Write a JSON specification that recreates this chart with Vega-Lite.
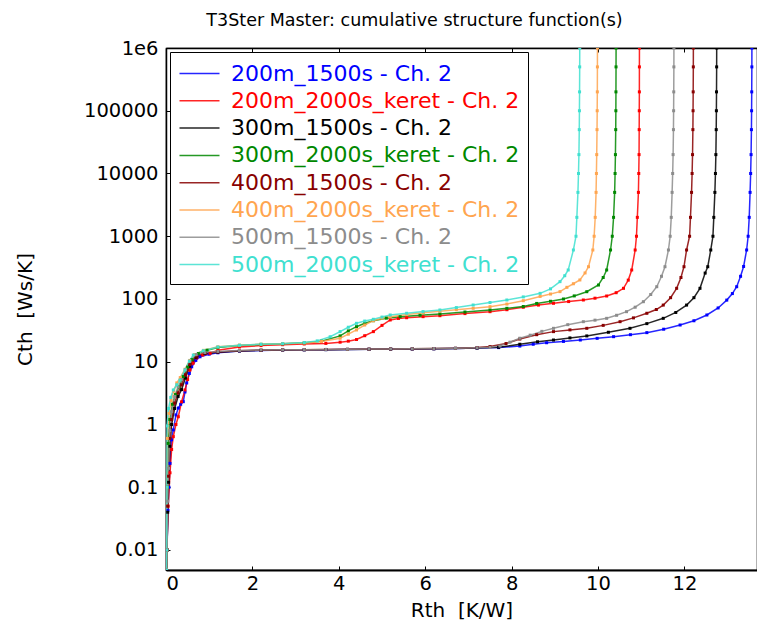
{
  "$schema": "https://vega.github.io/schema/vega-lite/v6.json",
  "autosize": {"type": "none"},
  "padding": {"left": 166, "top": 48, "right": 0, "bottom": 63},
  "width": 591,
  "height": 522,
  "background": "white",
  "title": {"text": "T3Ster Master: cumulative structure function(s)", "font": "DejaVu Sans", "fontSize": 17.5, "fontWeight": "normal", "color": "#000", "anchor": "middle", "dx": -47, "frame": "group", "baseline": "alphabetic", "offset": -5},
  "config": {
    "view": {"stroke": "#000", "strokeWidth": 1.2},
    "font": "DejaVu Sans"
  },
  "data": {"values": [
{"s":"200m_1500s","r":0.012,"c":0.0048},{"s":"200m_1500s","r":0.023,"c":0.01},{"s":"200m_1500s","r":0.046,"c":0.043},{"s":"200m_1500s","r":0.069,"c":0.1},{"s":"200m_1500s","r":0.093,"c":0.24},{"s":"200m_1500s","r":0.127,"c":0.57},{"s":"200m_1500s","r":0.169,"c":0.82},{"s":"200m_1500s","r":0.231,"c":1.42},{"s":"200m_1500s","r":0.285,"c":1.83},{"s":"200m_1500s","r":0.34,"c":2.1},{"s":"200m_1500s","r":0.4,"c":2.31},{"s":"200m_1500s","r":0.44,"c":3.3},{"s":"200m_1500s","r":0.479,"c":4.6},{"s":"200m_1500s","r":0.54,"c":6.5},{"s":"200m_1500s","r":0.595,"c":8.3},{"s":"200m_1500s","r":0.69,"c":10.5},{"s":"200m_1500s","r":0.787,"c":12.0},{"s":"200m_1500s","r":1.0,"c":13.2},{"s":"200m_1500s","r":1.2,"c":13.9},{"s":"200m_1500s","r":1.7,"c":14.8},{"s":"200m_1500s","r":2.2,"c":15.1},{"s":"200m_1500s","r":2.7,"c":15.4},{"s":"200m_1500s","r":3.2,"c":15.5},{"s":"200m_1500s","r":3.7,"c":15.6},{"s":"200m_1500s","r":4.2,"c":15.7},{"s":"200m_1500s","r":4.7,"c":15.8},{"s":"200m_1500s","r":5.2,"c":15.9},{"s":"200m_1500s","r":5.7,"c":16.0},{"s":"200m_1500s","r":6.2,"c":16.1},{"s":"200m_1500s","r":6.7,"c":16.3},{"s":"200m_1500s","r":7.2,"c":16.5},{"s":"200m_1500s","r":7.7,"c":16.8},{"s":"200m_1500s","r":8.19,"c":17.8},{"s":"200m_1500s","r":8.5,"c":19},{"s":"200m_1500s","r":8.81,"c":20.1},{"s":"200m_1500s","r":9.2,"c":21.1},{"s":"200m_1500s","r":9.59,"c":22.2},{"s":"200m_1500s","r":9.98,"c":23.6},{"s":"200m_1500s","r":10.36,"c":25.1},{"s":"200m_1500s","r":10.75,"c":27},{"s":"200m_1500s","r":11.13,"c":29.1},{"s":"200m_1500s","r":11.52,"c":33},{"s":"200m_1500s","r":11.9,"c":38.5},{"s":"200m_1500s","r":12.22,"c":45},{"s":"200m_1500s","r":12.52,"c":55.6},{"s":"200m_1500s","r":12.78,"c":72},{"s":"200m_1500s","r":12.98,"c":96},{"s":"200m_1500s","r":13.11,"c":122},{"s":"200m_1500s","r":13.21,"c":157},{"s":"200m_1500s","r":13.3,"c":230},{"s":"200m_1500s","r":13.37,"c":330},{"s":"200m_1500s","r":13.44,"c":604},{"s":"200m_1500s","r":13.475,"c":1000},{"s":"200m_1500s","r":13.5,"c":2000},{"s":"200m_1500s","r":13.52,"c":5000},{"s":"200m_1500s","r":13.533,"c":10000},{"s":"200m_1500s","r":13.543,"c":20000},{"s":"200m_1500s","r":13.551,"c":50000},{"s":"200m_1500s","r":13.555,"c":100000},{"s":"200m_1500s","r":13.558,"c":200000},{"s":"200m_1500s","r":13.561,"c":500000},{"s":"200m_1500s","r":13.562,"c":1000000},

{"s":"200m_2000s_keret","r":0.012,"c":0.0048},{"s":"200m_2000s_keret","r":0.02,"c":0.01},{"s":"200m_2000s_keret","r":0.05,"c":0.05},{"s":"200m_2000s_keret","r":0.093,"c":0.17},{"s":"200m_2000s_keret","r":0.13,"c":0.4},{"s":"200m_2000s_keret","r":0.169,"c":0.64},{"s":"200m_2000s_keret","r":0.23,"c":1.0},{"s":"200m_2000s_keret","r":0.285,"c":1.33},{"s":"200m_2000s_keret","r":0.36,"c":2.3},{"s":"200m_2000s_keret","r":0.44,"c":3.55},{"s":"200m_2000s_keret","r":0.5,"c":5.2},{"s":"200m_2000s_keret","r":0.556,"c":7.4},{"s":"200m_2000s_keret","r":0.63,"c":9.5},{"s":"200m_2000s_keret","r":0.711,"c":11.5},{"s":"200m_2000s_keret","r":0.85,"c":12.8},{"s":"200m_2000s_keret","r":1.02,"c":13.6},{"s":"200m_2000s_keret","r":1.2,"c":15.2},{"s":"200m_2000s_keret","r":1.7,"c":17.2},{"s":"200m_2000s_keret","r":2.2,"c":18.1},{"s":"200m_2000s_keret","r":2.7,"c":18.7},{"s":"200m_2000s_keret","r":3.2,"c":19.2},{"s":"200m_2000s_keret","r":3.7,"c":19.6},{"s":"200m_2000s_keret","r":4.03,"c":20.5},{"s":"200m_2000s_keret","r":4.22,"c":21.3},{"s":"200m_2000s_keret","r":4.41,"c":22.6},{"s":"200m_2000s_keret","r":4.6,"c":26},{"s":"200m_2000s_keret","r":4.8,"c":30.2},{"s":"200m_2000s_keret","r":5.0,"c":38},{"s":"200m_2000s_keret","r":5.19,"c":46.3},{"s":"200m_2000s_keret","r":5.38,"c":49},{"s":"200m_2000s_keret","r":5.57,"c":50.3},{"s":"200m_2000s_keret","r":5.95,"c":52.3},{"s":"200m_2000s_keret","r":6.34,"c":54.2},{"s":"200m_2000s_keret","r":6.92,"c":58.5},{"s":"200m_2000s_keret","r":7.5,"c":62.8},{"s":"200m_2000s_keret","r":7.89,"c":67.5},{"s":"200m_2000s_keret","r":8.27,"c":73.8},{"s":"200m_2000s_keret","r":8.62,"c":80},{"s":"200m_2000s_keret","r":8.97,"c":85.4},{"s":"200m_2000s_keret","r":9.32,"c":91},{"s":"200m_2000s_keret","r":9.66,"c":96.4},{"s":"200m_2000s_keret","r":9.93,"c":103},{"s":"200m_2000s_keret","r":10.2,"c":111.6},{"s":"200m_2000s_keret","r":10.42,"c":126},{"s":"200m_2000s_keret","r":10.59,"c":148},{"s":"200m_2000s_keret","r":10.7,"c":200},{"s":"200m_2000s_keret","r":10.78,"c":290},{"s":"200m_2000s_keret","r":10.86,"c":604},{"s":"200m_2000s_keret","r":10.89,"c":1000},{"s":"200m_2000s_keret","r":10.91,"c":2000},{"s":"200m_2000s_keret","r":10.935,"c":5000},{"s":"200m_2000s_keret","r":10.943,"c":10000},{"s":"200m_2000s_keret","r":10.95,"c":20000},{"s":"200m_2000s_keret","r":10.953,"c":50000},{"s":"200m_2000s_keret","r":10.955,"c":100000},{"s":"200m_2000s_keret","r":10.957,"c":200000},{"s":"200m_2000s_keret","r":10.958,"c":500000},{"s":"200m_2000s_keret","r":10.959,"c":1000000},

{"s":"300m_1500s","r":0.012,"c":0.0048},{"s":"300m_1500s","r":0.023,"c":0.01},{"s":"300m_1500s","r":0.04,"c":0.04},{"s":"300m_1500s","r":0.06,"c":0.12},{"s":"300m_1500s","r":0.09,"c":0.45},{"s":"300m_1500s","r":0.13,"c":1.0},{"s":"300m_1500s","r":0.2,"c":1.8},{"s":"300m_1500s","r":0.28,"c":2.8},{"s":"300m_1500s","r":0.36,"c":3.6},{"s":"300m_1500s","r":0.45,"c":5.5},{"s":"300m_1500s","r":0.55,"c":8.5},{"s":"300m_1500s","r":0.7,"c":11.8},{"s":"300m_1500s","r":0.9,"c":13.5},{"s":"300m_1500s","r":1.2,"c":14.2},{"s":"300m_1500s","r":1.7,"c":14.9},{"s":"300m_1500s","r":2.2,"c":15.2},{"s":"300m_1500s","r":2.7,"c":15.4},{"s":"300m_1500s","r":3.2,"c":15.5},{"s":"300m_1500s","r":3.7,"c":15.6},{"s":"300m_1500s","r":4.2,"c":15.7},{"s":"300m_1500s","r":4.7,"c":15.8},{"s":"300m_1500s","r":5.2,"c":15.9},{"s":"300m_1500s","r":5.7,"c":16.0},{"s":"300m_1500s","r":6.2,"c":16.1},{"s":"300m_1500s","r":6.7,"c":16.3},{"s":"300m_1500s","r":7.2,"c":16.5},{"s":"300m_1500s","r":7.7,"c":17.0},{"s":"300m_1500s","r":8.19,"c":19.0},{"s":"300m_1500s","r":8.6,"c":20.8},{"s":"300m_1500s","r":8.97,"c":22.2},{"s":"300m_1500s","r":9.35,"c":24.0},{"s":"300m_1500s","r":9.74,"c":25.8},{"s":"300m_1500s","r":10.24,"c":29.5},{"s":"300m_1500s","r":10.74,"c":34.1},{"s":"300m_1500s","r":11.13,"c":40.5},{"s":"300m_1500s","r":11.51,"c":49.2},{"s":"300m_1500s","r":11.8,"c":61},{"s":"300m_1500s","r":12.05,"c":80},{"s":"300m_1500s","r":12.22,"c":105},{"s":"300m_1500s","r":12.36,"c":148},{"s":"300m_1500s","r":12.48,"c":259},{"s":"300m_1500s","r":12.54,"c":327},{"s":"300m_1500s","r":12.61,"c":604},{"s":"300m_1500s","r":12.66,"c":1000},{"s":"300m_1500s","r":12.68,"c":2000},{"s":"300m_1500s","r":12.705,"c":5000},{"s":"300m_1500s","r":12.718,"c":10000},{"s":"300m_1500s","r":12.728,"c":20000},{"s":"300m_1500s","r":12.736,"c":50000},{"s":"300m_1500s","r":12.74,"c":100000},{"s":"300m_1500s","r":12.743,"c":200000},{"s":"300m_1500s","r":12.746,"c":500000},{"s":"300m_1500s","r":12.747,"c":1000000},

{"s":"300m_2000s_keret","r":0.012,"c":0.0048},{"s":"300m_2000s_keret","r":0.018,"c":0.01},{"s":"300m_2000s_keret","r":0.03,"c":0.1},{"s":"300m_2000s_keret","r":0.05,"c":0.5},{"s":"300m_2000s_keret","r":0.09,"c":1.2},{"s":"300m_2000s_keret","r":0.15,"c":2.1},{"s":"300m_2000s_keret","r":0.22,"c":3.0},{"s":"300m_2000s_keret","r":0.3,"c":4.0},{"s":"300m_2000s_keret","r":0.4,"c":5.8},{"s":"300m_2000s_keret","r":0.5,"c":8.2},{"s":"300m_2000s_keret","r":0.6,"c":10.8},{"s":"300m_2000s_keret","r":0.75,"c":13.5},{"s":"300m_2000s_keret","r":0.95,"c":15.3},{"s":"300m_2000s_keret","r":1.2,"c":16.8},{"s":"300m_2000s_keret","r":1.7,"c":18.2},{"s":"300m_2000s_keret","r":2.2,"c":18.9},{"s":"300m_2000s_keret","r":2.7,"c":19.4},{"s":"300m_2000s_keret","r":3.2,"c":20.0},{"s":"300m_2000s_keret","r":3.6,"c":21.2},{"s":"300m_2000s_keret","r":4.03,"c":25.8},{"s":"300m_2000s_keret","r":4.22,"c":31},{"s":"300m_2000s_keret","r":4.41,"c":36.2},{"s":"300m_2000s_keret","r":4.6,"c":41},{"s":"300m_2000s_keret","r":4.8,"c":45.1},{"s":"300m_2000s_keret","r":5.1,"c":49.5},{"s":"300m_2000s_keret","r":5.42,"c":52.2},{"s":"300m_2000s_keret","r":5.88,"c":55},{"s":"300m_2000s_keret","r":6.34,"c":57.7},{"s":"300m_2000s_keret","r":6.92,"c":62},{"s":"300m_2000s_keret","r":7.5,"c":66.8},{"s":"300m_2000s_keret","r":7.89,"c":71},{"s":"300m_2000s_keret","r":8.27,"c":76},{"s":"300m_2000s_keret","r":8.58,"c":85},{"s":"300m_2000s_keret","r":8.9,"c":92},{"s":"300m_2000s_keret","r":9.2,"c":100},{"s":"300m_2000s_keret","r":9.45,"c":112},{"s":"300m_2000s_keret","r":9.74,"c":130.7},{"s":"300m_2000s_keret","r":10.01,"c":167},{"s":"300m_2000s_keret","r":10.12,"c":220},{"s":"300m_2000s_keret","r":10.2,"c":290},{"s":"300m_2000s_keret","r":10.29,"c":604},{"s":"300m_2000s_keret","r":10.33,"c":1000},{"s":"300m_2000s_keret","r":10.36,"c":2000},{"s":"300m_2000s_keret","r":10.385,"c":5000},{"s":"300m_2000s_keret","r":10.395,"c":10000},{"s":"300m_2000s_keret","r":10.403,"c":20000},{"s":"300m_2000s_keret","r":10.41,"c":50000},{"s":"300m_2000s_keret","r":10.413,"c":100000},{"s":"300m_2000s_keret","r":10.415,"c":200000},{"s":"300m_2000s_keret","r":10.417,"c":500000},{"s":"300m_2000s_keret","r":10.418,"c":1000000},

{"s":"400m_1500s","r":0.012,"c":0.0048},{"s":"400m_1500s","r":0.023,"c":0.01},{"s":"400m_1500s","r":0.04,"c":0.05},{"s":"400m_1500s","r":0.06,"c":0.15},{"s":"400m_1500s","r":0.09,"c":0.6},{"s":"400m_1500s","r":0.13,"c":1.2},{"s":"400m_1500s","r":0.2,"c":2.2},{"s":"400m_1500s","r":0.28,"c":3.2},{"s":"400m_1500s","r":0.36,"c":4.3},{"s":"400m_1500s","r":0.45,"c":6.2},{"s":"400m_1500s","r":0.55,"c":9.0},{"s":"400m_1500s","r":0.7,"c":12.3},{"s":"400m_1500s","r":0.9,"c":13.8},{"s":"400m_1500s","r":1.2,"c":14.3},{"s":"400m_1500s","r":1.7,"c":15.0},{"s":"400m_1500s","r":2.2,"c":15.3},{"s":"400m_1500s","r":2.7,"c":15.5},{"s":"400m_1500s","r":3.2,"c":15.6},{"s":"400m_1500s","r":3.7,"c":15.7},{"s":"400m_1500s","r":4.2,"c":15.8},{"s":"400m_1500s","r":4.7,"c":15.9},{"s":"400m_1500s","r":5.2,"c":16.0},{"s":"400m_1500s","r":5.7,"c":16.1},{"s":"400m_1500s","r":6.2,"c":16.2},{"s":"400m_1500s","r":6.7,"c":16.4},{"s":"400m_1500s","r":7.2,"c":16.8},{"s":"400m_1500s","r":7.5,"c":17.5},{"s":"400m_1500s","r":7.87,"c":19.5},{"s":"400m_1500s","r":8.19,"c":23.0},{"s":"400m_1500s","r":8.58,"c":27},{"s":"400m_1500s","r":8.97,"c":30.2},{"s":"400m_1500s","r":9.35,"c":32.2},{"s":"400m_1500s","r":9.74,"c":34.1},{"s":"400m_1500s","r":10.12,"c":38},{"s":"400m_1500s","r":10.51,"c":43.5},{"s":"400m_1500s","r":10.82,"c":50},{"s":"400m_1500s","r":11.13,"c":59.2},{"s":"400m_1500s","r":11.35,"c":68},{"s":"400m_1500s","r":11.51,"c":80},{"s":"400m_1500s","r":11.68,"c":105},{"s":"400m_1500s","r":11.82,"c":148},{"s":"400m_1500s","r":11.92,"c":220},{"s":"400m_1500s","r":11.99,"c":327},{"s":"400m_1500s","r":12.05,"c":604},{"s":"400m_1500s","r":12.12,"c":1000},{"s":"400m_1500s","r":12.14,"c":2000},{"s":"400m_1500s","r":12.165,"c":5000},{"s":"400m_1500s","r":12.178,"c":10000},{"s":"400m_1500s","r":12.188,"c":20000},{"s":"400m_1500s","r":12.196,"c":50000},{"s":"400m_1500s","r":12.2,"c":100000},{"s":"400m_1500s","r":12.203,"c":200000},{"s":"400m_1500s","r":12.206,"c":500000},{"s":"400m_1500s","r":12.207,"c":1000000},

{"s":"400m_2000s_keret","r":0.012,"c":0.0048},{"s":"400m_2000s_keret","r":0.016,"c":0.01},{"s":"400m_2000s_keret","r":0.022,"c":0.1},{"s":"400m_2000s_keret","r":0.03,"c":0.6},{"s":"400m_2000s_keret","r":0.07,"c":1.5},{"s":"400m_2000s_keret","r":0.12,"c":2.4},{"s":"400m_2000s_keret","r":0.18,"c":3.4},{"s":"400m_2000s_keret","r":0.25,"c":4.6},{"s":"400m_2000s_keret","r":0.33,"c":5.6},{"s":"400m_2000s_keret","r":0.44,"c":7.6},{"s":"400m_2000s_keret","r":0.55,"c":10.5},{"s":"400m_2000s_keret","r":0.66,"c":13.0},{"s":"400m_2000s_keret","r":0.87,"c":15.2},{"s":"400m_2000s_keret","r":1.2,"c":17.3},{"s":"400m_2000s_keret","r":1.7,"c":18.4},{"s":"400m_2000s_keret","r":2.2,"c":19.0},{"s":"400m_2000s_keret","r":2.7,"c":19.4},{"s":"400m_2000s_keret","r":3.2,"c":19.9},{"s":"400m_2000s_keret","r":3.6,"c":21},{"s":"400m_2000s_keret","r":4.03,"c":23.7},{"s":"400m_2000s_keret","r":4.22,"c":27.5},{"s":"400m_2000s_keret","r":4.41,"c":32.1},{"s":"400m_2000s_keret","r":4.6,"c":38.5},{"s":"400m_2000s_keret","r":4.8,"c":45.1},{"s":"400m_2000s_keret","r":5.0,"c":49.5},{"s":"400m_2000s_keret","r":5.19,"c":52.2},{"s":"400m_2000s_keret","r":5.57,"c":56.5},{"s":"400m_2000s_keret","r":5.96,"c":60.5},{"s":"400m_2000s_keret","r":6.34,"c":64},{"s":"400m_2000s_keret","r":6.72,"c":67.5},{"s":"400m_2000s_keret","r":7.11,"c":71.1},{"s":"400m_2000s_keret","r":7.5,"c":75.5},{"s":"400m_2000s_keret","r":7.89,"c":83},{"s":"400m_2000s_keret","r":8.27,"c":94},{"s":"400m_2000s_keret","r":8.66,"c":110},{"s":"400m_2000s_keret","r":8.9,"c":120},{"s":"400m_2000s_keret","r":9.12,"c":131},{"s":"400m_2000s_keret","r":9.28,"c":153.5},{"s":"400m_2000s_keret","r":9.43,"c":175},{"s":"400m_2000s_keret","r":9.58,"c":201},{"s":"400m_2000s_keret","r":9.7,"c":260},{"s":"400m_2000s_keret","r":9.78,"c":327},{"s":"400m_2000s_keret","r":9.88,"c":604},{"s":"400m_2000s_keret","r":9.91,"c":1000},{"s":"400m_2000s_keret","r":9.935,"c":2000},{"s":"400m_2000s_keret","r":9.955,"c":5000},{"s":"400m_2000s_keret","r":9.963,"c":10000},{"s":"400m_2000s_keret","r":9.97,"c":20000},{"s":"400m_2000s_keret","r":9.977,"c":50000},{"s":"400m_2000s_keret","r":9.981,"c":100000},{"s":"400m_2000s_keret","r":9.984,"c":200000},{"s":"400m_2000s_keret","r":9.986,"c":500000},{"s":"400m_2000s_keret","r":9.987,"c":1000000},

{"s":"500m_1500s","r":0.012,"c":0.0048},{"s":"500m_1500s","r":0.023,"c":0.01},{"s":"500m_1500s","r":0.04,"c":0.06},{"s":"500m_1500s","r":0.06,"c":0.2},{"s":"500m_1500s","r":0.09,"c":0.8},{"s":"500m_1500s","r":0.13,"c":1.6},{"s":"500m_1500s","r":0.2,"c":2.8},{"s":"500m_1500s","r":0.28,"c":4.0},{"s":"500m_1500s","r":0.36,"c":5.2},{"s":"500m_1500s","r":0.45,"c":7.5},{"s":"500m_1500s","r":0.55,"c":10.2},{"s":"500m_1500s","r":0.7,"c":13.0},{"s":"500m_1500s","r":0.9,"c":14.0},{"s":"500m_1500s","r":1.2,"c":14.6},{"s":"500m_1500s","r":1.7,"c":15.1},{"s":"500m_1500s","r":2.2,"c":15.4},{"s":"500m_1500s","r":2.7,"c":15.5},{"s":"500m_1500s","r":3.2,"c":15.6},{"s":"500m_1500s","r":3.7,"c":15.7},{"s":"500m_1500s","r":4.2,"c":15.8},{"s":"500m_1500s","r":4.7,"c":15.9},{"s":"500m_1500s","r":5.2,"c":16.0},{"s":"500m_1500s","r":5.7,"c":16.1},{"s":"500m_1500s","r":6.2,"c":16.2},{"s":"500m_1500s","r":6.7,"c":16.4},{"s":"500m_1500s","r":7.2,"c":16.7},{"s":"500m_1500s","r":7.5,"c":17.0},{"s":"500m_1500s","r":7.73,"c":17.8},{"s":"500m_1500s","r":7.96,"c":20.5},{"s":"500m_1500s","r":8.19,"c":23.7},{"s":"500m_1500s","r":8.43,"c":26.5},{"s":"500m_1500s","r":8.7,"c":30.5},{"s":"500m_1500s","r":8.97,"c":34.1},{"s":"500m_1500s","r":9.3,"c":39},{"s":"500m_1500s","r":9.66,"c":43.5},{"s":"500m_1500s","r":9.93,"c":46},{"s":"500m_1500s","r":10.2,"c":49.2},{"s":"500m_1500s","r":10.43,"c":55},{"s":"500m_1500s","r":10.66,"c":62.8},{"s":"500m_1500s","r":10.86,"c":74},{"s":"500m_1500s","r":11.05,"c":90.6},{"s":"500m_1500s","r":11.22,"c":118},{"s":"500m_1500s","r":11.36,"c":157},{"s":"500m_1500s","r":11.47,"c":230},{"s":"500m_1500s","r":11.55,"c":327},{"s":"500m_1500s","r":11.63,"c":604},{"s":"500m_1500s","r":11.67,"c":1000},{"s":"500m_1500s","r":11.695,"c":2000},{"s":"500m_1500s","r":11.715,"c":5000},{"s":"500m_1500s","r":11.728,"c":10000},{"s":"500m_1500s","r":11.738,"c":20000},{"s":"500m_1500s","r":11.746,"c":50000},{"s":"500m_1500s","r":11.75,"c":100000},{"s":"500m_1500s","r":11.753,"c":200000},{"s":"500m_1500s","r":11.756,"c":500000},{"s":"500m_1500s","r":11.757,"c":1000000},

{"s":"500m_2000s_keret","r":0.012,"c":0.0048},{"s":"500m_2000s_keret","r":0.015,"c":0.01},{"s":"500m_2000s_keret","r":0.02,"c":0.1},{"s":"500m_2000s_keret","r":0.023,"c":0.95},{"s":"500m_2000s_keret","r":0.06,"c":1.8},{"s":"500m_2000s_keret","r":0.11,"c":2.7},{"s":"500m_2000s_keret","r":0.169,"c":3.55},{"s":"500m_2000s_keret","r":0.25,"c":4.3},{"s":"500m_2000s_keret","r":0.324,"c":5.1},{"s":"500m_2000s_keret","r":0.44,"c":7.4},{"s":"500m_2000s_keret","r":0.54,"c":10.2},{"s":"500m_2000s_keret","r":0.632,"c":12.8},{"s":"500m_2000s_keret","r":0.863,"c":15.0},{"s":"500m_2000s_keret","r":1.2,"c":17.2},{"s":"500m_2000s_keret","r":1.7,"c":18.3},{"s":"500m_2000s_keret","r":2.2,"c":19.0},{"s":"500m_2000s_keret","r":2.7,"c":19.4},{"s":"500m_2000s_keret","r":3.2,"c":20.2},{"s":"500m_2000s_keret","r":3.5,"c":21.5},{"s":"500m_2000s_keret","r":3.8,"c":25},{"s":"500m_2000s_keret","r":4.03,"c":30.2},{"s":"500m_2000s_keret","r":4.22,"c":35.5},{"s":"500m_2000s_keret","r":4.41,"c":41},{"s":"500m_2000s_keret","r":4.6,"c":44.5},{"s":"500m_2000s_keret","r":4.8,"c":47.5},{"s":"500m_2000s_keret","r":5.0,"c":51.5},{"s":"500m_2000s_keret","r":5.19,"c":55.6},{"s":"500m_2000s_keret","r":5.57,"c":59.2},{"s":"500m_2000s_keret","r":5.95,"c":63},{"s":"500m_2000s_keret","r":6.34,"c":66.8},{"s":"500m_2000s_keret","r":6.72,"c":73},{"s":"500m_2000s_keret","r":7.11,"c":80.2},{"s":"500m_2000s_keret","r":7.5,"c":88},{"s":"500m_2000s_keret","r":7.89,"c":96.4},{"s":"500m_2000s_keret","r":8.27,"c":108},{"s":"500m_2000s_keret","r":8.66,"c":123},{"s":"500m_2000s_keret","r":8.9,"c":145},{"s":"500m_2000s_keret","r":9.12,"c":189},{"s":"500m_2000s_keret","r":9.23,"c":235},{"s":"500m_2000s_keret","r":9.31,"c":290},{"s":"500m_2000s_keret","r":9.43,"c":604},{"s":"500m_2000s_keret","r":9.49,"c":1000},{"s":"500m_2000s_keret","r":9.51,"c":2000},{"s":"500m_2000s_keret","r":9.535,"c":5000},{"s":"500m_2000s_keret","r":9.548,"c":10000},{"s":"500m_2000s_keret","r":9.558,"c":20000},{"s":"500m_2000s_keret","r":9.566,"c":50000},{"s":"500m_2000s_keret","r":9.57,"c":100000},{"s":"500m_2000s_keret","r":9.573,"c":200000},{"s":"500m_2000s_keret","r":9.576,"c":500000},{"s":"500m_2000s_keret","r":9.577,"c":1000000}
  ]},
  "encoding": {
    "y": {"field": "c", "type": "quantitative",
      "scale": {"type": "log", "domain": [0.0048, 1000000], "nice": false},
      "axis": {"values": [0.01, 0.1, 1, 10, 100, 1000, 10000, 100000, 1000000],
        "labelExpr": "datum.value >= 1000000 ? '1e6' : '' + datum.value",
        "title": "Cth \u00a0[Ws/K]", "titleFont": "DejaVu Sans", "titleFontSize": 20, "titleFontWeight": "normal", "titleColor": "#000", "titlePadding": 48,
        "labelFont": "DejaVu Sans", "labelFontSize": 19.5, "labelColor": "#000", "labelPadding": 12,
        "tickSize": -4, "tickColor": "#000", "domainColor": "#000", "domainWidth": 1.5, "grid": false}},
    "color": {"field": "s", "type": "nominal",
      "scale": {"domain": ["200m_1500s", "200m_2000s_keret", "300m_1500s", "300m_2000s_keret", "400m_1500s", "400m_2000s_keret", "500m_1500s", "500m_2000s_keret"],
        "range": ["#0000ff", "#ff0000", "#000000", "#008800", "#880000", "#ffa54f", "#8c8c8c", "#40e0d0"]},
      "legend": {"title": null, "orient": "top-left", "offset": 4, "labelExpr": "datum.label + ' - Ch. 2\u00a0\u00a0'",
        "labelFont": "DejaVu Sans", "labelFontSize": 22, "labelLimit": 0, "labelOffset": 18,
        "labelColor": {"expr": "scale('color', datum.value)"},
        "symbolType": "M-1.6,0H1.6", "symbolSize": 625, "symbolOffset": 8, "symbolStrokeWidth": 1.5,
        "rowPadding": 2.3, "padding": 8, "strokeColor": "#000", "fillColor": "#fff", "cornerRadius": 0}}
  },
  "layer": [
    {"mark": {"type": "line", "strokeWidth": 1.5, "opacity": 0.85, "clip": true},
     "encoding": {"x": {"field": "r", "type": "quantitative", "scale": {"domain": [0, 13.68], "nice": false, "zero": false},
       "axis": {"values": [0, 2, 4, 6, 8, 10, 12], "title": "Rth \u00a0[K/W]", "titleFont": "DejaVu Sans", "titleFontSize": 20, "titleFontWeight": "normal", "titleColor": "#000", "titlePadding": 8,
         "labelFont": "DejaVu Sans", "labelFontSize": 19.5, "labelColor": "#000", "labelPadding": 8,
         "tickSize": -4, "tickColor": "#000", "domainColor": "#000", "domainWidth": 2, "grid": false}}}},
    {"mark": {"type": "point", "shape": "square", "filled": true, "size": 9, "opacity": 1, "clip": true},
     "encoding": {"x": {"field": "r", "type": "quantitative",
       "axis": {"orient": "top", "values": [0, 2, 4, 6, 8, 10, 12], "labels": false, "title": null, "tickSize": -4, "tickColor": "#000", "domainColor": "#000", "domainWidth": 1.5, "grid": false}}}}
  ],
  "resolve": {"axis": {"x": "independent"}}
}
